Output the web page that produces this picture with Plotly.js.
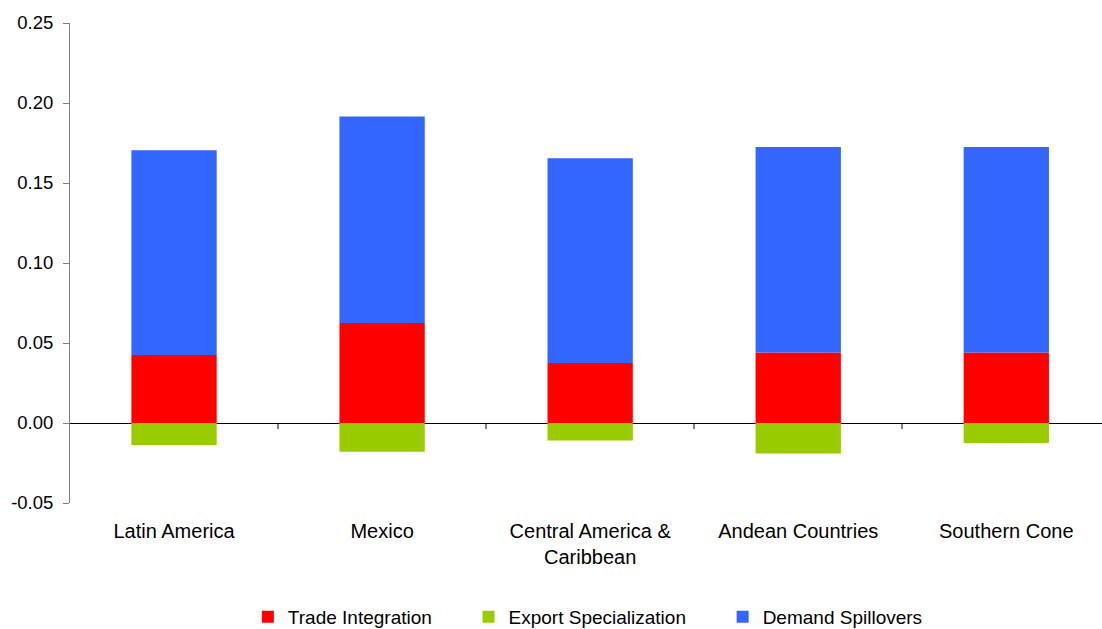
<!DOCTYPE html>
<html><head><meta charset="utf-8">
<script src="https://cdn.plot.ly/plotly-3.0.1.min.js"></script>
<style>body{margin:0;background:#fff}#chart{width:1102px;height:629px}</style>
</head><body><div id="chart"></div>
<script>
const categories = ["Latin America", "Mexico", "Central America &<br>Caribbean", "Andean Countries", "Southern Cone"];
const seriesNames = ["Trade Integration", "Export Specialization", "Demand Spillovers"];
const tradeIntegration = [0.0425, 0.0625, 0.0375, 0.044, 0.044];
const exportSpecialization = [-0.0138, -0.018, -0.011, -0.019, -0.0125];
const demandSpillovers = [0.128, 0.129, 0.128, 0.1285, 0.1285];
const yTicks = [-0.05, 0, 0.05, 0.10, 0.15, 0.20, 0.25];
const yTickLabels = ["-0.05", "0.00", "0.05", "0.10", "0.15", "0.20", "0.25"];

const fam = "Liberation Sans, Arial, sans-serif";
const idx = categories.map((c, i) => i);
const nb = n => "\u00a0".repeat(n);
const mk = (name, y, color) => ({type: "bar", name, x: idx, y, marker: {color, line: {width: 0}}, width: 0.41, hoverinfo: "skip"});
const data = [
  mk(seriesNames[0] + nb(6), tradeIntegration, "#FF0000"),
  mk(seriesNames[1] + nb(6), exportSpecialization, "#99CC00"),
  mk(seriesNames[2], demandSpillovers, "#3366FF"),
  {type: "scatter", mode: "none", x: idx, y: tradeIntegration, xaxis: "x2", showlegend: false, hoverinfo: "skip"}
];
const layout = {
  width: 1102, height: 629,
  margin: {l: 70, r: 0, t: 23, b: 126, autoexpand: false},
  barmode: "relative",
  font: {family: fam, size: 19, color: "#000"},
  showlegend: true,
  legend: {orientation: "h", x: 0.5018, xanchor: "center", y: -(617 - 503) / 480, yanchor: "middle",
           font: {family: fam, size: 19, color: "#000"}, traceorder: "normal", bgcolor: "rgba(0,0,0,0)"},
  xaxis: {range: [-0.5, 4.46], tickvals: idx, ticktext: categories, showline: false, showgrid: false, zeroline: false, automargin: false,
          ticks: "outside", ticklen: 10, tickcolor: "rgba(0,0,0,0)", tickfont: {family: fam, size: 20, color: "#000"}},
  xaxis2: {overlaying: "x", anchor: "free", position: 1 / 6, range: [-0.5, 4.46], tickvals: [0.5, 1.5, 2.5, 3.5],
           showticklabels: false, ticks: "outside", ticklen: 5, tickcolor: "#808080", tickwidth: 2, showline: false, showgrid: false, zeroline: false},
  yaxis: {range: [-0.05, 0.25], tickvals: yTicks, ticktext: yTickLabels, showgrid: false, showline: true, linecolor: "#808080", linewidth: 1, automargin: false,
          ticks: "outside", ticklen: 6, tickcolor: "#808080", ticklabelstandoff: 6, zeroline: true, zerolinecolor: "#000", zerolinewidth: 1,
          tickfont: {family: fam, size: 18.5, color: "#000"}},
  plot_bgcolor: "#fff", paper_bgcolor: "#fff"
};
Plotly.newPlot("chart", data, layout, {staticPlot: true});
</script></body></html>
